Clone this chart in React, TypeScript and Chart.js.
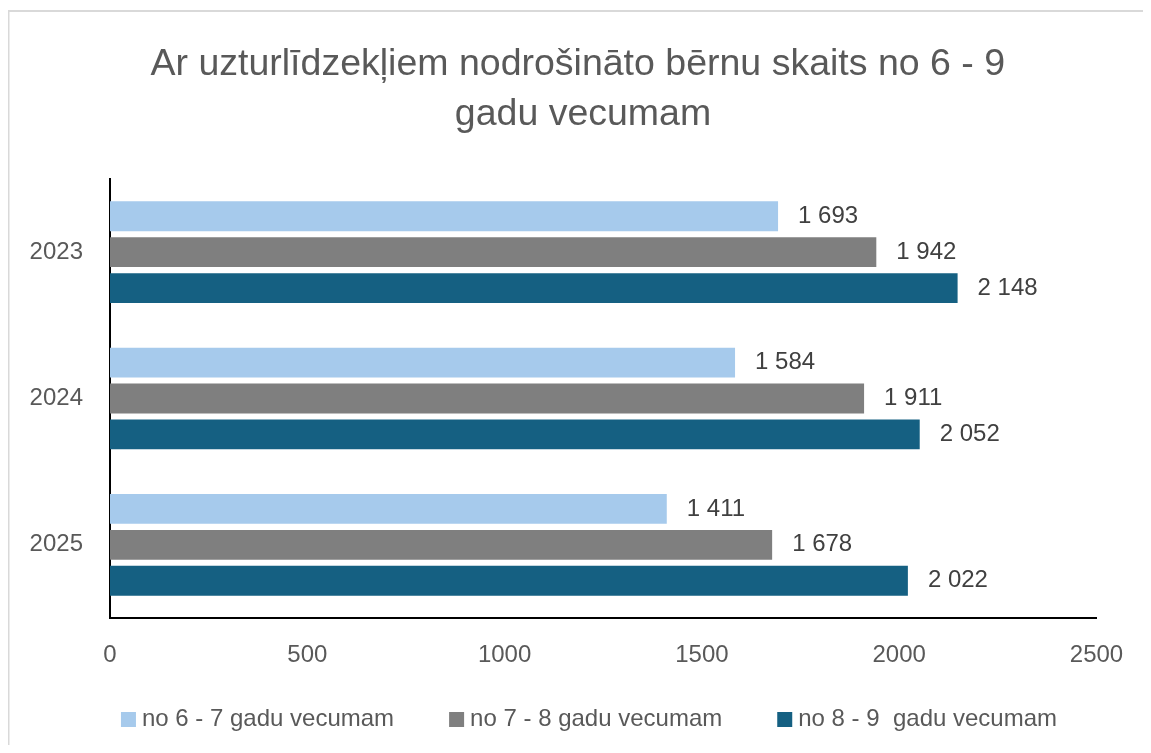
import React, { useEffect, useRef } from 'react';
import { Chart, registerables } from 'chart.js';

Chart.register(...registerables);

const TITLE_LINES = ['Ar uzturlīdzekļiem nodrošināto bērnu skaits no 6 - 9 ', 'gadu vecumam'];
const YEARS = ['2023', '2024', '2025'];
const SERIES_NAMES = ['no 6 - 7 gadu vecumam', 'no 7 - 8 gadu vecumam', 'no 8 - 9  gadu vecumam'];
const AGE_6_7 = [1693, 1584, 1411];
const AGE_7_8 = [1942, 1911, 1678];
const AGE_8_9 = [2148, 2052, 2022];
const SERIES_COLORS = ['#A6CAEC', '#7F7F7F', '#156082'];
const X_MIN = 0;
const X_MAX = 2500;
const X_STEP = 500;

const FONT = "'Liberation Sans', Arial, sans-serif";

const fmt = (v: number) => String(v).replace(/\B(?=(\d{3})+(?!\d))/g, ' ');

const centerX = (chart: any) => chart.width / 2 + 4.5;

const borderPlugin = {
  id: 'outerBorder',
  beforeDraw(chart: any) {
    const ctx = chart.ctx;
    ctx.save();
    ctx.fillStyle = '#ffffff';
    ctx.fillRect(0, 0, chart.width, chart.height);
    ctx.strokeStyle = '#d9d9d9';
    ctx.lineWidth = 2;
    ctx.strokeRect(0.5, 3, chart.width + 20, chart.height + 20);
    ctx.restore();
  },
};

const titlePlugin = {
  id: 'customTitle',
  afterDraw(chart: any) {
    const ctx = chart.ctx;
    ctx.save();
    ctx.font = `37.5px ${FONT}`;
    ctx.fillStyle = '#595959';
    ctx.textAlign = 'center';
    ctx.textBaseline = 'middle';
    TITLE_LINES.forEach((line, i) => {
      ctx.fillText(line, centerX(chart) - 1, 57 + i * 50);
    });
    ctx.restore();
  },
};

const dataLabelPlugin = {
  id: 'valueLabels',
  afterDatasetsDraw(chart: any) {
    const ctx = chart.ctx;
    ctx.save();
    ctx.font = `24px ${FONT}`;
    ctx.fillStyle = '#404040';
    ctx.textAlign = 'left';
    ctx.textBaseline = 'middle';
    chart.data.datasets.forEach((ds: any, i: number) => {
      const meta = chart.getDatasetMeta(i);
      meta.data.forEach((bar: any, j: number) => {
        ctx.fillText(fmt(ds.data[j]), bar.x + 20, bar.y);
      });
    });
    ctx.restore();
  },
};

const legendPlugin = {
  id: 'customLegend',
  afterDraw(chart: any) {
    const ctx = chart.ctx;
    ctx.save();
    ctx.font = `24px ${FONT}`;
    ctx.textBaseline = 'middle';
    ctx.textAlign = 'left';
    const box = 15;
    const gapText = 6;
    const gapItem = 55;
    const items = chart.data.datasets;
    const widths = items.map((d: any) => ctx.measureText(d.label).width);
    const total =
      widths.reduce((a: number, w: number) => a + box + gapText + w, 0) + gapItem * (widths.length - 1);
    let x = centerX(chart) + 5 - total / 2;
    const y = chart.chartArea.bottom + 101.5;
    items.forEach((d: any, i: number) => {
      ctx.fillStyle = d.backgroundColor;
      ctx.fillRect(x, y - box / 2, box, box);
      x += box + gapText;
      ctx.fillStyle = '#595959';
      ctx.fillText(d.label, x, y);
      x += widths[i] + gapItem;
    });
    ctx.restore();
  },
};

export default function App() {
  const canvasRef = useRef<HTMLCanvasElement | null>(null);

  useEffect(() => {
    if (!canvasRef.current) return;
    const seriesValues = [AGE_6_7, AGE_7_8, AGE_8_9];
    const chart = new Chart(canvasRef.current, {
      type: 'bar',
      data: {
        labels: YEARS,
        datasets: seriesValues.map((vals, i) => ({
          label: SERIES_NAMES[i],
          data: vals,
          backgroundColor: SERIES_COLORS[i],
          borderWidth: 0,
          categoryPercentage: 0.736,
          barPercentage: 0.83,
        })),
      },
      options: {
        indexAxis: 'y',
        animation: false,
        responsive: true,
        maintainAspectRatio: false,
        layout: { padding: { left: 0, right: 54.5, top: 171, bottom: 77 } },
        plugins: {
          legend: { display: false },
          tooltip: { enabled: false },
          title: { display: false },
        },
        scales: {
          x: {
            min: X_MIN,
            max: X_MAX,
            grid: { display: false, drawTicks: false },
            border: { display: true, color: '#000000', width: 2 },
            ticks: {
              stepSize: X_STEP,
              color: '#595959',
              padding: 23,
              font: { family: FONT, size: 24 },
              callback: (v: any) => String(v),
            },
            afterFit: (scale: any) => {
              scale.height = 50;
            },
          },
          y: {
            grid: { display: false, drawTicks: false },
            border: { display: true, color: '#000000', width: 2 },
            ticks: {
              color: '#595959',
              padding: 27,
              font: { family: FONT, size: 24 },
            },
            afterFit: (scale: any) => {
              scale.width = 102;
            },
          },
        },
      },
      plugins: [borderPlugin, dataLabelPlugin, titlePlugin, legendPlugin],
    } as any);
    return () => chart.destroy();
  }, []);

  return (
    <div style={{ position: 'relative', width: 1143, height: 737 }}>
      <canvas ref={canvasRef} />
    </div>
  );
}
